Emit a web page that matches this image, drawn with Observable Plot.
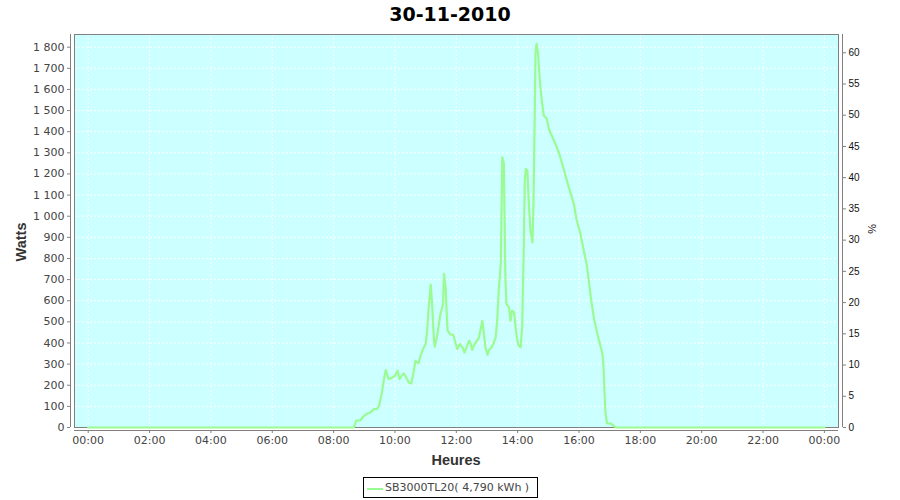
<!DOCTYPE html>
<html>
<head>
<meta charset="utf-8">
<script src="https://cdn.jsdelivr.net/npm/d3@7"></script>
<script src="https://cdn.jsdelivr.net/npm/@observablehq/plot@0.6"></script>
<style>
  html, body { margin: 0; padding: 0; background: #fff; }
  #wrap { position: relative; width: 900px; height: 500px; overflow: hidden; }
  #wrap svg { position: absolute; left: 0; top: 0; }
  .lbl { position: absolute; white-space: nowrap; }
</style>
</head>
<body>
<div id="wrap"></div>
<script>
const chartTitle = "30-11-2010";
const yLabel = "Watts";
const xLabel = "Heures";
const y2Label = "%";
const seriesName = "SB3000TL20( 4,790 kWh )";

const times = ["00:00","08:40",
"08:44","08:53","08:56","09:02","09:06","09:12","09:19","09:25","09:29","09:34",
"09:38","09:42","09:48","09:55","10:00","10:05","10:09","10:13","10:17","10:22",
"10:27","10:32","10:37","10:40","10:46","10:50","10:55","11:00","11:03","11:06",
"11:10","11:13","11:16","11:18","11:23","11:26","11:29","11:34","11:36","11:39",
"11:41","11:43","11:49","11:54","11:59","12:02","12:07","12:12","12:16","12:20",
"12:25","12:28","12:31","12:34","12:38","12:41","12:44","12:47","12:51","12:54",
"12:57","13:01","13:04","13:08","13:13","13:17","13:20","13:23","13:27","13:30",
"13:33","13:36","13:38","13:43","13:46","13:49","13:53","13:56","13:59","14:02",
"14:06","14:09","14:12","14:14","14:16","14:19","14:22","14:25","14:29","14:31",
"14:33","14:35","14:37","14:40","14:42","14:45","14:48","14:51","14:57","15:01",
"15:08","15:14","15:21","15:27","15:30","15:37","15:44","15:50","15:55","16:02",
"16:08","16:15","16:19","16:24","16:29","16:36","16:41","16:46","16:48","16:50",
"16:52","16:55","17:02","17:08",
"17:12","24:00"];

const watts = [0,0,
32,35,47,60,66,71,87,87,103,158,
221,272,229,237,245,269,229,245,256,237,
213,208,269,316,303,340,371,395,458,568,
676,568,426,382,442,490,537,585,727,663,
553,458,439,439,395,371,395,379,355,379,
411,398,367,387,403,414,423,458,505,442,
379,344,367,376,398,426,505,648,774,1279,
1248,711,585,568,505,553,545,474,419,387,
379,490,853,1169,1224,1216,1058,932,876,1058,
1405,1776,1816,1769,1690,1595,1532,1477,1461,1414,
1374,1342,1298,1248,1224,1161,1106,1058,987,924,
853,774,695,600,521,442,395,348,284,158,
63,19,19,8,
0,0];

const xTicks = [0,2,4,6,8,10,12,14,16,18,20,22,24];
const yTicks = [0,100,200,300,400,500,600,700,800,900,1000,1100,1200,1300,1400,1500,1600,1700,1800];
const pctTicks = [0,5,10,15,20,25,30,35,40,45,50,55,60];
const wattsPerPct = 29.56;

const xDomain = [-0.447, 24.46];
const yDomain = [0, 1860];

const data = times.map((t, i) => {
  const [h, m] = t.split(":").map(Number);
  return {h: h + m / 60, w: watts[i]};
});

const fmtW = d3.formatLocale({decimal: ",", thousands: " ", grouping: [3]}).format(",d");
const fmtH = d => String(d % 24).padStart(2, "0") + ":00";

const lineColor = "#99fb92";
const axisColor = "#808080";

const plot = Plot.plot({
  width: 900,
  height: 500,
  marginLeft: 74,
  marginRight: 62,
  marginTop: 34,
  marginBottom: 73,
  style: {fontFamily: "DejaVu Sans", fontSize: "11px", color: "#444", background: "transparent"},
  x: {domain: xDomain},
  y: {domain: yDomain},
  marks: [
    Plot.frame({fill: "#ccffff", stroke: null}),
    Plot.gridY(yTicks, {stroke: "white", strokeOpacity: 1, strokeWidth: 1, strokeDasharray: "2,2"}),
    Plot.gridX(xTicks, {stroke: "white", strokeOpacity: 1, strokeWidth: 1, strokeDasharray: "2,2"}),
    Plot.frame({stroke: axisColor, strokeWidth: 1}),
    Plot.line(data, {x: "h", y: "w", stroke: lineColor, strokeWidth: 2.2, curve: "linear"}),
    // axis lines offset from the plot frame
    Plot.ruleX([xDomain[0]], {dx: -4, stroke: axisColor}),
    Plot.ruleX([xDomain[1]], {dx: 4, stroke: axisColor}),
    Plot.ruleY([yDomain[0]], {dy: 3, stroke: axisColor}),
    Plot.axisY(yTicks, {anchor: "left", dx: -4, tickSize: 3, tickPadding: 3, tickFormat: fmtW, label: null, stroke: axisColor, fill: "#444"}),
    Plot.axisY(pctTicks.map(p => p * wattsPerPct), {anchor: "right", dx: 4, tickSize: 3, tickPadding: 3,
      tickFormat: d => String(Math.round(d / wattsPerPct)), label: null, stroke: axisColor, fill: "#111",
      fontFamily: "Liberation Sans", fontSize: 10}),
    Plot.axisX(xTicks, {anchor: "bottom", dy: 3, tickSize: 3, tickPadding: 3, tickFormat: fmtH, label: null, stroke: axisColor, fill: "#444"})
  ]
});

const wrap = document.getElementById("wrap");
wrap.appendChild(plot);

function addLabel(text, css) {
  const d = document.createElement("div");
  d.className = "lbl";
  d.textContent = text;
  Object.assign(d.style, css);
  wrap.appendChild(d);
  return d;
}

addLabel(chartTitle, {left: "0px", width: "900px", top: "3px", textAlign: "center",
  fontFamily: "DejaVu Sans", fontWeight: "bold", fontSize: "19px", color: "#000", lineHeight: "22px"});
addLabel(xLabel, {left: "356px", width: "200px", top: "451px", textAlign: "center",
  fontFamily: "Liberation Sans", fontWeight: "bold", fontSize: "14.5px", color: "#333", lineHeight: "18px"});
addLabel(yLabel, {left: "-79px", width: "200px", top: "233px", textAlign: "center",
  fontFamily: "Liberation Sans", fontWeight: "bold", fontSize: "14.5px", color: "#333", lineHeight: "18px",
  transform: "rotate(-90deg)"});
addLabel(y2Label, {left: "822px", width: "100px", top: "222px", textAlign: "center",
  fontFamily: "Liberation Sans", fontSize: "11px", color: "#111", lineHeight: "14px",
  transform: "rotate(90deg)"});

// legend
const leg = document.createElement("div");
Object.assign(leg.style, {position: "absolute", left: "363px", top: "477px", width: "173px", height: "19px",
  border: "1px solid #000", boxSizing: "content-box", background: "#fff"});
const sw = document.createElement("div");
Object.assign(sw.style, {position: "absolute", left: "3px", top: "10px", width: "16px", height: "2px", background: lineColor});
leg.appendChild(sw);
const lt = document.createElement("div");
lt.textContent = seriesName;
Object.assign(lt.style, {position: "absolute", left: "21px", top: "2px", whiteSpace: "nowrap",
  fontFamily: "DejaVu Sans", fontSize: "11px", color: "#444", lineHeight: "16px"});
leg.appendChild(lt);
wrap.appendChild(leg);
</script>
</body>
</html>
